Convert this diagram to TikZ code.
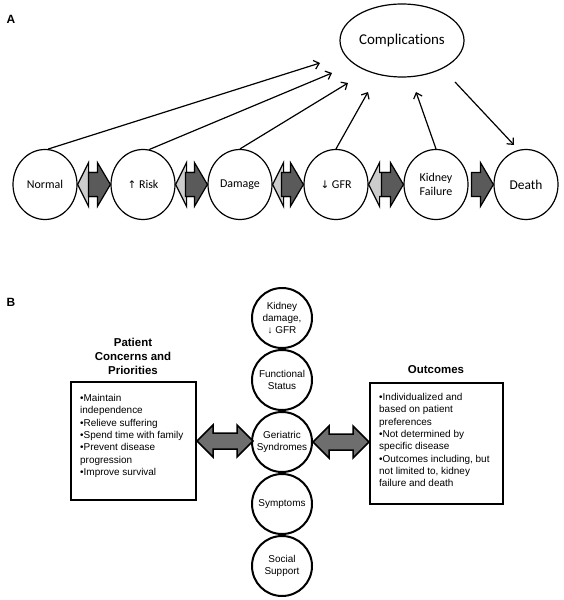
\documentclass[tikz,border=0pt]{standalone}
\usepackage{fontspec}
\setmainfont{Liberation Sans}
\newfontfamily\calib[Ligatures=NoCommon]{Carlito}
\newfontfamily\dejavu{DejaVu Sans}
\usetikzlibrary{arrows.meta,shapes.geometric}
\definecolor{darkA}{HTML}{5A5A5A}
\definecolor{lightA}{HTML}{CCCCCC}
\definecolor{darkB}{HTML}{6E6E6E}
\begin{document}
\begin{tikzpicture}[x=1bp,y=-1bp,
  stageA/.style={ellipse, draw, line width=1.2bp, minimum width=64bp, minimum height=70bp, inner sep=0pt, align=center, font=\calib\fontsize{12}{13.5}\selectfont},
  compl/.style={ellipse, draw, line width=1.2bp, minimum width=124bp, minimum height=73bp, inner sep=0pt, font=\calib\fontsize{15}{17}\selectfont},
  link/.style={line width=1.2bp, -{Straight Barb[length=5bp,width=9bp]}},
  panel/.style={font=\bfseries\fontsize{12}{14}\selectfont},
  circB/.style={circle, draw, line width=2bp, minimum size=60bp, inner sep=0pt, align=center, font=\fontsize{10}{12.4}\selectfont},
  boxB/.style={draw, line width=2bp, inner sep=0pt, anchor=north west},
  textB/.style={align=left, inner sep=0pt, anchor=north west, font=\fontsize{10}{12.4}\selectfont},
  titleB/.style={align=center, inner sep=0pt, font=\bfseries\fontsize{11.5}{14}\selectfont},
  pics/lightarr/.style={code={\filldraw[fill=lightA,line width=1.2bp] (0,0) -- (11,-22) -- (11,-12) -- (24,-12) -- (24,12) -- (11,12) -- (11,22) -- cycle;}},
  pics/darkarr/.style={code={\filldraw[fill=darkA,line width=1.2bp] (0,0) -- (-13,-22) -- (-13,-12) -- (-22,-12) -- (-22,12) -- (-13,12) -- (-13,22) -- cycle;}},
  pics/dblarrB/.style={code={\filldraw[fill=darkB,line width=1.5bp] (0,0) -- (16,-16) -- (16,-8) -- (40,-8) -- (40,-16) -- (56,0) -- (40,16) -- (40,8) -- (16,8) -- (16,16) -- cycle;}}
]
\useasboundingbox (0,0) rectangle (564,600);

% ---------- Panel A ----------
\node[panel] (labA) at (11,19) {A};
\node[compl] (cx) at (402,40.5) {Complications};
\node[stageA] (n1) at (45,184.5) {Normal};
\node[stageA] (n2) at (143,184.5) {{\dejavu\fontsize{10.5}{12}\selectfont ↑} Risk};
\node[stageA] (n3) at (240,184.5) {Damage};
\node[stageA] (n4) at (336,184.5) {{\dejavu\fontsize{10.5}{12}\selectfont ↓} GFR};
\node[stageA] (n5) at (436,184.5) {Kidney\\Failure};
\node[stageA, font=\calib\fontsize{13.5}{15}\selectfont] (n6) at (526,184.5) {Death};

\coordinate (c1) at (320,63);
\coordinate (c2) at (332,73);
\coordinate (c3) at (348,83);
\coordinate (c4) at (368,92);
\coordinate (c5) at (416,92);
\coordinate (d0) at (455,82);
\coordinate (d1) at (514,145);
\draw[link] (n1.85) -- (c1);
\draw[link] (n2.80) -- (c2);
\draw[link] (n3.north) -- (c3);
\draw[link] (n4.north) -- (c4);
\draw[link] (n5.north) -- (c5);
\draw[link] (d0) -- (d1);

\pic at (n1.east) {lightarr};
\pic at (n2.west) {darkarr};
\pic at (n2.east) {lightarr};
\pic at (n3.west) {darkarr};
\pic at (n3.east) {lightarr};
\pic at (n4.west) {darkarr};
\pic at (n4.east) {lightarr};
\pic at (n5.west) {darkarr};
\pic at (n6.west) {darkarr};

% ---------- Panel B ----------
\node[panel] (labB) at (11,302) {B};
\node[circB] (k) at (282,318) {Kidney\\damage,\\↓ GFR};
\node[circB] (f) at (282,380) {Functional\\Status};
\node[circB] (g) at (282,442) {Geriatric\\Syndromes};
\node[circB] (s) at (282,504) {Symptoms};
\node[circB] (ss) at (282,566) {Social\\Support};

\node[titleB] (ptitle) at (133,356) {Patient\\Concerns and\\Priorities};
\node[boxB, minimum width=125bp, minimum height=118bp] (pbox) at (70,381) {};
\node[textB] (ptext) at (80,394) {•Maintain\\independence\\•Relieve suffering\\•Spend time with family\\•Prevent disease\\progression\\•Improve survival};

\node[titleB] (otitle) at (436,370) {Outcomes};
\node[boxB, minimum width=133bp, minimum height=121bp] (obox) at (369,382) {};
\node[textB] (otext) at (379,393) {•Individualized and\\based on patient\\preferences\\•Not determined by\\specific disease\\•Outcomes including, but\\not limited to, kidney\\failure and death};

\pic at (pbox.east) {dblarrB};
\pic at (g.east) {dblarrB};
\end{tikzpicture}
\end{document}
